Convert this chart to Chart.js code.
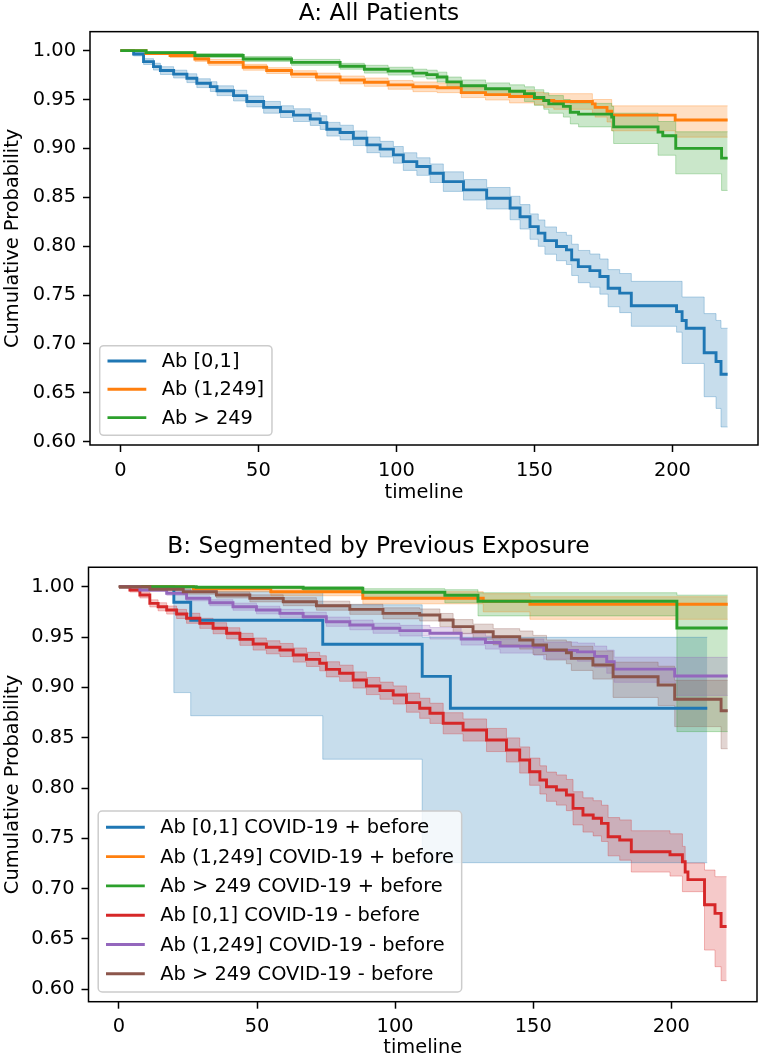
<!DOCTYPE html>
<html>
<head>
<meta charset="utf-8">
<script src="https://cdn.jsdelivr.net/npm/chart.js@4.4.1/dist/chart.umd.min.js"></script>
<style>
  html, body { margin: 0; padding: 0; background: #fff; }
  #wrap { position: relative; width: 762px; height: 1061px; }
  canvas { position: absolute; left: 0; }
</style>
</head>
<body>
<div id="wrap">
  <canvas id="chartA" width="762" height="520" style="top:0px"></canvas>
  <canvas id="chartB" width="762" height="541" style="top:520px"></canvas>
</div>
<script>
// tick labels
const xTicks = [0, 50, 100, 150, 200];
const yTicks = [0.60, 0.65, 0.70, 0.75, 0.80, 0.85, 0.90, 0.95, 1.00];

// A: All Patients
const aLabels = ['Ab [0,1]', 'Ab (1,249]', 'Ab > 249'];
const aBlueT = [0, 4.8, 8.4, 12, 14.5, 19.3, 24.1, 27.7, 32.6, 35, 41, 45.8, 51.9, 58, 62.7, 68.8, 72.4, 74.8, 79.6, 84.4, 89.3, 94.1, 98.9, 102.5, 107.4, 112.2, 117, 124.3, 132.7, 141.2, 144.8, 148.4, 151.4, 153.8, 158, 161.6, 163.5, 165.9, 170.1, 173.7, 176.7, 180.9, 185.1, 201.5, 203.5, 205, 211.5, 215.8, 217.6, 220];
const aBlueS = [1, 0.9966, 0.9888, 0.9836, 0.9796, 0.976, 0.9718, 0.9667, 0.9632, 0.959, 0.954, 0.948, 0.942, 0.9376, 0.934, 0.930, 0.9264, 0.9196, 0.9162, 0.9104, 0.9036, 0.8992, 0.8934, 0.8865, 0.8814, 0.8746, 0.866, 0.8576, 0.849, 0.839, 0.830, 0.820, 0.8133, 0.8057, 0.7996, 0.7962, 0.786, 0.7791, 0.775, 0.7689, 0.757, 0.752, 0.739, 0.733, 0.724, 0.716, 0.691, 0.682, 0.669, 0.669];
const aBlueLo = [1, 0.9946, 0.9858, 0.9801, 0.9756, 0.972, 0.9673, 0.9622, 0.9582, 0.954, 0.9485, 0.9425, 0.936, 0.9316, 0.9275, 0.9235, 0.9194, 0.9126, 0.9087, 0.9029, 0.8956, 0.8912, 0.8849, 0.8775, 0.8724, 0.8651, 0.856, 0.8471, 0.838, 0.827, 0.8175, 0.807, 0.7998, 0.7917, 0.7851, 0.7812, 0.770, 0.7626, 0.758, 0.7509, 0.738, 0.732, 0.718, 0.712, 0.680, 0.680, 0.646, 0.634, 0.615, 0.615];
const aBlueHi = [1, 0.9986, 0.9918, 0.9871, 0.9836, 0.980, 0.9763, 0.9712, 0.9682, 0.964, 0.9595, 0.9535, 0.948, 0.9436, 0.9405, 0.9365, 0.9334, 0.9266, 0.9237, 0.9179, 0.9116, 0.9072, 0.9019, 0.8955, 0.8904, 0.8841, 0.876, 0.8681, 0.860, 0.851, 0.8425, 0.833, 0.8268, 0.8197, 0.8141, 0.8112, 0.802, 0.7956, 0.792, 0.7869, 0.776, 0.772, 0.764, 0.764, 0.748, 0.748, 0.731, 0.724, 0.716, 0.716];

const aOrangeT = [0, 9.3, 18, 27, 32, 44.5, 53, 62, 71, 79.6, 88.4, 97, 106, 114.8, 123.5, 132.3, 141, 150, 153.4, 157, 171, 172, 176.3, 178, 201, 220];
const aOrangeS = [1, 0.997, 0.995, 0.9915, 0.988, 0.983, 0.9796, 0.976, 0.973, 0.970, 0.9677, 0.965, 0.963, 0.962, 0.957, 0.955, 0.953, 0.951, 0.949, 0.948, 0.9455, 0.942, 0.938, 0.934, 0.929, 0.929];
const aOrangeLo = [1, 0.996, 0.993, 0.989, 0.985, 0.980, 0.9766, 0.9725, 0.969, 0.966, 0.9635, 0.9605, 0.958, 0.957, 0.952, 0.9495, 0.9465, 0.9445, 0.942, 0.94, 0.936, 0.932, 0.927, 0.918, 0.9115, 0.9115];
const aOrangeHi = [1, 0.998, 0.997, 0.994, 0.991, 0.986, 0.9826, 0.9795, 0.977, 0.974, 0.972, 0.9695, 0.968, 0.967, 0.962, 0.9605, 0.9595, 0.9575, 0.956, 0.956, 0.950, 0.950, 0.950, 0.9435, 0.9435, 0.9435];

const aGreenT = [0, 9.3, 27, 44.5, 62, 79.6, 88.4, 97, 106, 111, 114.8, 118.3, 123.5, 132.3, 141, 146.4, 150, 153.4, 155.2, 160.5, 163, 166, 178, 178.7, 194.8, 196.5, 201.2, 217.8, 220];
const aGreenS = [1, 0.998, 0.995, 0.9915, 0.988, 0.984, 0.981, 0.979, 0.977, 0.9755, 0.973, 0.968, 0.964, 0.961, 0.9585, 0.956, 0.952, 0.949, 0.9455, 0.943, 0.937, 0.935, 0.932, 0.922, 0.9166, 0.913, 0.900, 0.890, 0.890];
const aGreenLo = [1, 0.997, 0.993, 0.989, 0.985, 0.981, 0.977, 0.975, 0.973, 0.971, 0.968, 0.963, 0.958, 0.955, 0.952, 0.948, 0.944, 0.940, 0.936, 0.932, 0.925, 0.922, 0.918, 0.905, 0.893, 0.893, 0.874, 0.857, 0.857];
const aGreenHi = [1, 0.999, 0.997, 0.994, 0.991, 0.987, 0.985, 0.983, 0.981, 0.980, 0.978, 0.973, 0.970, 0.967, 0.965, 0.963, 0.960, 0.957, 0.954, 0.950, 0.946, 0.946, 0.943, 0.936, 0.9275, 0.9275, 0.917, 0.917, 0.917];

// B: Segmented by Previous Exposure
const bLabels = ['Ab [0,1] COVID-19 + before', 'Ab (1,249] COVID-19 + before', 'Ab > 249 COVID-19 + before',
                 'Ab [0,1] COVID-19 - before', 'Ab (1,249] COVID-19 - before', 'Ab > 249 COVID-19 - before'];
const bBlueT = [0, 19.9, 26, 73.8, 109.8, 120, 213];
const bBlueS = [1, 0.9846, 0.9667, 0.9428, 0.9109, 0.8793, 0.8793];
const bBlueLo = [1, 0.8948, 0.8718, 0.8286, 0.7258, 0.7258, 0.7258];
const bBlueHi = [1, 0.998, 0.995, 0.982, 0.9497, 0.9497, 0.9497];

const bOrangeT = [0, 27, 55, 88.3, 131.9, 148.8, 220.4];
const bOrangeS = [1, 0.998, 0.995, 0.9885, 0.9855, 0.9825, 0.9825];
const bOrangeLo = [1, 0.995, 0.991, 0.983, 0.975, 0.9676, 0.9676];
const bOrangeHi = [1, 1, 0.999, 0.995, 0.993, 0.990, 0.990];

const bGreenT = [0, 28, 66.7, 88.3, 118, 130, 202, 220.4];
const bGreenS = [1, 0.9995, 0.9985, 0.9944, 0.9915, 0.9855, 0.959, 0.959];
const bGreenLo = [1, 0.998, 0.996, 0.989, 0.984, 0.971, 0.856, 0.856];
const bGreenHi = [1, 1, 1, 0.998, 0.997, 0.994, 0.9916, 0.9916];

const bRedT = [0, 4, 7.6, 11.2, 14.2, 17.3, 20.9, 24.5, 29.3, 34.1, 39, 43.8, 48.6, 53.4, 58.3, 63.1, 67.9, 72.7, 75.1, 79.9, 84.8, 89.6, 94.5, 99.3, 104.1, 108.9, 112.6, 117.4, 124.6, 133.1, 140.3, 145.1, 148.7, 152.4, 154.8, 158.4, 162, 164.4, 168, 171.7, 174.7, 177.1, 181.3, 185.5, 199.5, 204, 205, 206, 212, 215.8, 218, 220];
const bRedS = [1, 0.9967, 0.9918, 0.9834, 0.980, 0.9768, 0.9729, 0.9686, 0.9636, 0.9587, 0.9537, 0.9477, 0.943, 0.9398, 0.9371, 0.9321, 0.9278, 0.9239, 0.9179, 0.914, 0.9073, 0.9013, 0.8967, 0.8924, 0.8848, 0.8792, 0.8742, 0.8643, 0.8576, 0.8477, 0.8378, 0.8278, 0.8162, 0.808, 0.8013, 0.798, 0.793, 0.7798, 0.7732, 0.7699, 0.7649, 0.7516, 0.7483, 0.7367, 0.7337, 0.7268, 0.7165, 0.709, 0.684, 0.6754, 0.6624, 0.6624];
const bRedLo = [1, 0.9947, 0.9888, 0.9799, 0.976, 0.9728, 0.9684, 0.9636, 0.9586, 0.9532, 0.9482, 0.9417, 0.937, 0.9333, 0.9306, 0.9251, 0.9208, 0.9164, 0.9104, 0.906, 0.8993, 0.8928, 0.8882, 0.8834, 0.8753, 0.8692, 0.8642, 0.8538, 0.8466, 0.8362, 0.8258, 0.8148, 0.8027, 0.794, 0.7868, 0.783, 0.7775, 0.7633, 0.7562, 0.7524, 0.7469, 0.7326, 0.7283, 0.7165, 0.7125, 0.697, 0.697, 0.697, 0.639, 0.6225, 0.6086, 0.6086];
const bRedHi = [1, 0.9987, 0.9948, 0.9869, 0.984, 0.9808, 0.9774, 0.9736, 0.9686, 0.9642, 0.9592, 0.9537, 0.949, 0.9463, 0.9436, 0.9391, 0.9348, 0.9314, 0.9254, 0.922, 0.9153, 0.9098, 0.9052, 0.9014, 0.8943, 0.8892, 0.8842, 0.8748, 0.8686, 0.8592, 0.8498, 0.8408, 0.8297, 0.822, 0.8158, 0.813, 0.8085, 0.7963, 0.7902, 0.7874, 0.7829, 0.7706, 0.7683, 0.7575, 0.7545, 0.742, 0.7255, 0.7255, 0.7185, 0.7119, 0.7119, 0.7119];

const bPurpleT = [0, 7.6, 17.3, 24.5, 32.9, 41.3, 49.8, 58.3, 66.7, 75.1, 83.6, 92, 101.7, 112.6, 123.9, 132.7, 138, 150.3, 153.8, 166, 172.2, 176.6, 179.3, 201.2, 220.4];
const bPurpleS = [1, 0.9967, 0.9934, 0.9884, 0.9841, 0.9801, 0.9768, 0.9735, 0.9702, 0.9652, 0.962, 0.9587, 0.9563, 0.9537, 0.9479, 0.9445, 0.941, 0.94, 0.9366, 0.9352, 0.9308, 0.9256, 0.9181, 0.9112, 0.9112];
const bPurpleLo = [1, 0.9955, 0.9915, 0.986, 0.9811, 0.9766, 0.973, 0.9695, 0.9658, 0.9606, 0.9572, 0.9537, 0.951, 0.948, 0.942, 0.938, 0.934, 0.932, 0.928, 0.926, 0.920, 0.914, 0.905, 0.892, 0.892];
const bPurpleHi = [1, 0.9979, 0.9953, 0.9908, 0.9871, 0.9836, 0.9806, 0.9775, 0.9746, 0.9698, 0.9668, 0.9637, 0.9616, 0.9594, 0.9538, 0.951, 0.948, 0.948, 0.945, 0.944, 0.941, 0.937, 0.930, 0.9298, 0.9298];

const bBrownT = [0, 11.2, 23.3, 35.3, 47.4, 59.5, 71.5, 83.6, 95.6, 108.9, 116.2, 121, 128.2, 135.5, 145.1, 149.9, 154.8, 162, 163.8, 171.6, 178.9, 195.2, 201.2, 218, 220.4];
const bBrownS = [1, 0.9974, 0.995, 0.9918, 0.9884, 0.9851, 0.9811, 0.9775, 0.9735, 0.9719, 0.9669, 0.9603, 0.9553, 0.9503, 0.947, 0.9421, 0.9371, 0.9344, 0.9288, 0.9222, 0.9106, 0.9023, 0.8881, 0.8768, 0.8768];
const bBrownLo = [1, 0.9959, 0.9925, 0.9888, 0.9849, 0.9811, 0.9766, 0.9725, 0.968, 0.9659, 0.9604, 0.9533, 0.9478, 0.9423, 0.938, 0.9326, 0.9271, 0.9234, 0.9168, 0.9082, 0.890, 0.882, 0.861, 0.839, 0.839];
const bBrownHi = [1, 0.9989, 0.9975, 0.9948, 0.9919, 0.9891, 0.9856, 0.9825, 0.979, 0.9779, 0.9734, 0.9673, 0.9628, 0.9583, 0.956, 0.9516, 0.9471, 0.9454, 0.9408, 0.9362, 0.925, 0.921, 0.907, 0.907, 0.907];

const colors = ['#1f77b4', '#ff7f0e', '#2ca02c', '#d62728', '#9467bd', '#8c564b'];
const family = '"DejaVu Sans", sans-serif';
const tickFont = { family: family, size: 19.4 };

function pts(t, v) {
  return t.map((x, i) => ({ x: x, y: v[i] }));
}

function rgba(hex, a) {
  const n = parseInt(hex.slice(1), 16);
  return `rgba(${(n >> 16) & 255},${(n >> 8) & 255},${n & 255},${a})`;
}

// axes frame on all four sides
const framePlugin = {
  id: 'frame',
  afterDatasetsDraw(chart) {
    const { ctx, chartArea: a } = chart;
    ctx.save();
    ctx.strokeStyle = '#000';
    ctx.lineWidth = 1.5;
    ctx.strokeRect(a.left, a.top, a.right - a.left, a.bottom - a.top);
    ctx.restore();
  }
};

// matplotlib-like legend in the lower left corner
const boxLegend = {
  id: 'boxLegend',
  afterDraw(chart, args, opts) {
    const { ctx, chartArea: a } = chart;
    ctx.save();
    ctx.font = '19.4px ' + family;
    const textW = Math.max(...opts.labels.map(l => ctx.measureText(l).width));
    const x0 = a.left + 9.7;
    const y0 = a.bottom - 9.7 - opts.height;
    const w = 7.8 + 38.8 + 15.5 + textW + 7.8;
    ctx.beginPath();
    if (ctx.roundRect) ctx.roundRect(x0, y0, w, opts.height, 4);
    else ctx.rect(x0, y0, w, opts.height);
    ctx.fillStyle = 'rgba(255,255,255,0.8)';
    ctx.fill();
    ctx.strokeStyle = '#cccccc';
    ctx.lineWidth = 1.5;
    ctx.stroke();
    opts.labels.forEach((l, i) => {
      const cy = y0 + opts.first + i * opts.step;
      ctx.strokeStyle = colors[i];
      ctx.lineWidth = 2.9;
      ctx.beginPath();
      ctx.moveTo(x0 + 7.8, cy);
      ctx.lineTo(x0 + 7.8 + 38.8, cy);
      ctx.stroke();
      ctx.fillStyle = '#000';
      ctx.textBaseline = 'middle';
      ctx.textAlign = 'left';
      ctx.fillText(l, x0 + 62.1, cy + 1);
    });
    ctx.restore();
  }
};

function makeChart(id, series, labels, o) {
  const datasets = [];
  series.forEach((s, k) => {
    const c = colors[k];
    datasets.push({
      label: labels[k], data: pts(s[0], s[1]), borderColor: c, borderWidth: 2.9,
      stepped: true, pointRadius: 0, fill: false, order: 10 - k
    });
    datasets.push({
      label: labels[k] + ' upper', data: pts(s[0], s[3]), borderColor: rgba(c, 0.3),
      backgroundColor: rgba(c, 0.25), borderWidth: 1, stepped: true, pointRadius: 0,
      fill: '+1', order: 30 - k
    });
    datasets.push({
      label: labels[k] + ' lower', data: pts(s[0], s[2]), borderColor: rgba(c, 0.3),
      borderWidth: 1, stepped: true, pointRadius: 0, fill: false, order: 30 - k
    });
  });

  const tickGrid = {
    display: true, drawOnChartArea: false, drawTicks: true,
    tickLength: 7, tickWidth: 1.5, tickColor: '#000'
  };

  return new Chart(document.getElementById(id), {
    type: 'line',
    data: { datasets: datasets },
    options: {
      responsive: false,
      animation: false,
      events: [],
      layout: { padding: { left: 0, right: o.padRight, top: 0, bottom: 0 } },
      scales: {
        x: {
          type: 'linear', min: -11, max: 231,
          afterBuildTicks: s => { s.ticks = xTicks.map(v => ({ value: v })); },
          afterFit: s => { s.height = o.xHeight; },
          grid: tickGrid,
          border: { display: false },
          ticks: { color: '#000', font: tickFont, padding: 7, maxRotation: 0, autoSkip: false },
          title: { display: true, text: 'timeline', color: '#000', font: tickFont, padding: { top: 0, bottom: o.xTitlePad } }
        },
        y: {
          type: 'linear', min: o.yMin, max: o.yMax,
          afterBuildTicks: s => { s.ticks = yTicks.map(v => ({ value: v })); },
          afterFit: s => { s.width = o.yWidth; },
          grid: tickGrid,
          border: { display: false },
          ticks: { color: '#000', font: tickFont, padding: 7, callback: v => v.toFixed(2) },
          title: { display: true, text: 'Cumulative Probability', color: '#000', font: tickFont, padding: { top: 1.4, bottom: 0 } }
        }
      },
      plugins: {
        legend: { display: false },
        tooltip: { enabled: false },
        filler: { drawTime: 'beforeDatasetsDraw' },
        title: {
          display: true, text: o.title, color: '#000',
          font: { family: family, size: 23.3, weight: 'normal' },
          padding: o.titlePad
        },
        boxLegend: { labels: labels, height: o.legH, first: o.legFirst, step: o.legStep }
      }
    },
    plugins: [framePlugin, boxLegend]
  });
}

makeChart('chartA', [
  [aBlueT, aBlueS, aBlueLo, aBlueHi],
  [aOrangeT, aOrangeS, aOrangeLo, aOrangeHi],
  [aGreenT, aGreenS, aGreenLo, aGreenHi]
], aLabels, {
  title: 'A: All Patients', titlePad: { top: 0, bottom: 3.7 },
  yMin: 0.5966, yMax: 1.0194, yWidth: 90, xHeight: 75, xTitlePad: 15.7, padRight: 4,
  legH: 89.6, legFirst: 15.3, legStep: 28.3
});

makeChart('chartB', [
  [bBlueT, bBlueS, bBlueLo, bBlueHi],
  [bOrangeT, bOrangeS, bOrangeLo, bOrangeHi],
  [bGreenT, bGreenS, bGreenLo, bGreenHi],
  [bRedT, bRedS, bRedLo, bRedHi],
  [bPurpleT, bPurpleS, bPurpleLo, bPurpleHi],
  [bBrownT, bBrownS, bBrownLo, bBrownHi]
], bLabels, {
  title: 'B: Segmented by Previous Exposure', titlePad: { top: 12.5, bottom: 6.8 },
  yMin: 0.5877, yMax: 1.0193, yWidth: 88.5, xHeight: 59.3, xTitlePad: 1.6, padRight: 5,
  legH: 181, legFirst: 16.3, legStep: 29.3
});
</script>
</body>
</html>
